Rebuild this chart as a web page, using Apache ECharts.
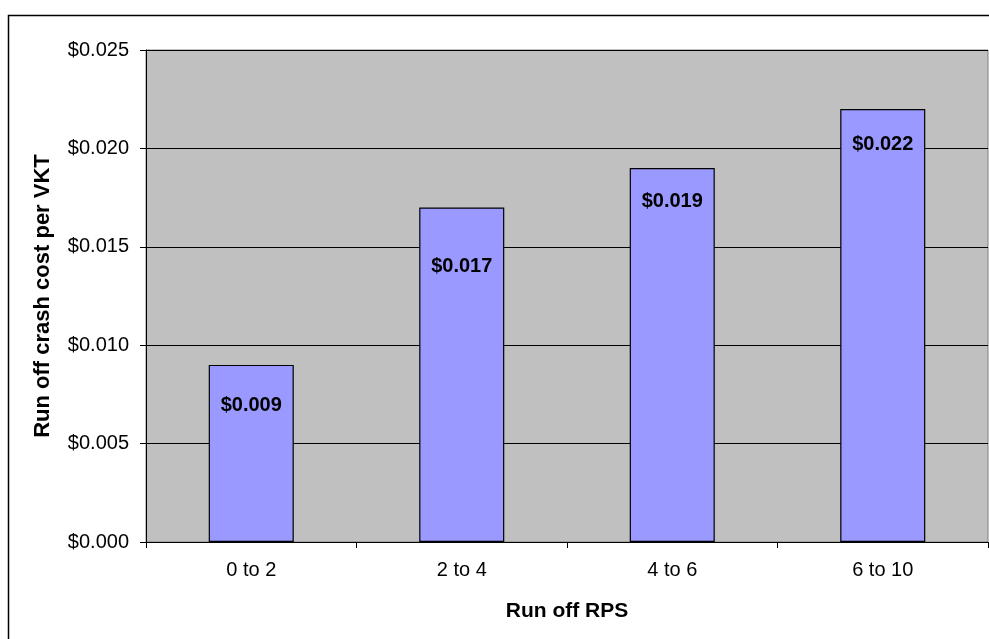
<!DOCTYPE html>
<html>
<head>
<meta charset="utf-8">
<script src="https://cdn.jsdelivr.net/npm/echarts@6/dist/echarts.min.js"></script>
<style>
html,body{margin:0;padding:0;background:#fff;}
#chart{width:989px;height:639px;}
</style>
</head>
<body>
<div id="chart"></div>
<script>
const categories = ['0 to 2', '2 to 4', '4 to 6', '6 to 10'];
const costValues = [0.009, 0.017, 0.019, 0.022];
const yTicks = { min: 0, max: 0.025, interval: 0.005 };
const labelDistances = [31, 49, 23, 25];

const FONT = '"Liberation Sans", Arial, sans-serif';
const chart = echarts.init(document.getElementById('chart'), null, { renderer: 'canvas' });

chart.setOption({
  animation: false,
  backgroundColor: '#ffffff',
  graphic: [{
    type: 'rect',
    z: 0,
    silent: true,
    shape: { x: 8.5, y: 15.5, width: 1100, height: 800 },
    style: { fill: 'none', stroke: '#000000', lineWidth: 1.5 }
  }],
  grid: {
    left: 146, top: 50, right: 1, bottom: 97,
    show: true, backgroundColor: '#C0C0C0', borderColor: '#808080', borderWidth: 1
  },
  xAxis: {
    type: 'category',
    data: categories,
    name: 'Run off RPS',
    nameLocation: 'middle',
    nameGap: 59,
    nameTextStyle: { fontFamily: FONT, fontSize: 21, fontWeight: 'bold', color: '#000' },
    axisLine: { lineStyle: { color: '#000', width: 1 } },
    axisTick: { show: true, length: 6, lineStyle: { color: '#000' } },
    axisLabel: { fontFamily: FONT, fontSize: 20, color: '#000', margin: 18 },
    splitLine: { show: false }
  },
  yAxis: {
    type: 'value',
    min: yTicks.min, max: yTicks.max, interval: yTicks.interval,
    name: 'Run off crash cost per VKT',
    nameLocation: 'middle',
    nameGap: 92,
    nameTextStyle: { fontFamily: FONT, fontSize: 22, fontWeight: 'bold', color: '#000' },
    axisLine: { show: true, lineStyle: { color: '#000', width: 1 } },
    axisTick: { show: true, length: 6, lineStyle: { color: '#000' } },
    axisLabel: {
      fontFamily: FONT, fontSize: 20, color: '#000', margin: 17,
      formatter: v => '$' + v.toFixed(3)
    },
    splitLine: { show: true, lineStyle: { color: '#000', width: 1 } }
  },
  series: [{
    type: 'bar',
    data: costValues.map((v, i) => ({
      value: v,
      label: { distance: labelDistances[i] }
    })),
    barWidth: '40.4%',
    itemStyle: { color: '#9999FF', borderColor: '#000', borderWidth: 1.2 },
    label: {
      show: true,
      position: 'insideTop',
      fontFamily: FONT, fontSize: 20, fontWeight: 'bold', color: '#000',
      formatter: p => '$' + p.value.toFixed(3)
    }
  }]
});
</script>
</body>
</html>
